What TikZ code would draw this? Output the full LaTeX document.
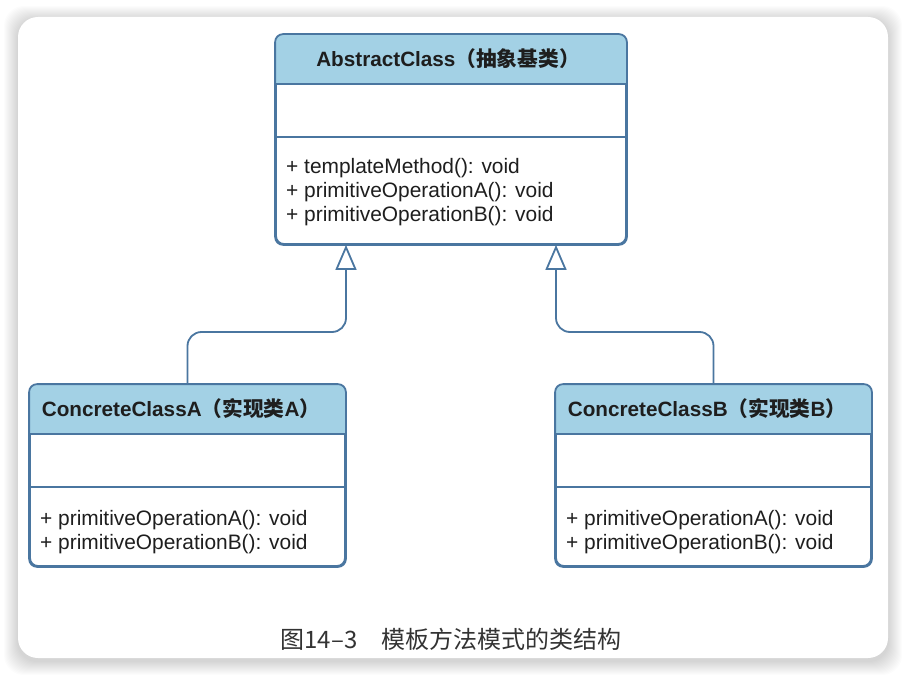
\documentclass[tikz,border=0pt]{standalone}
\usepackage{fontspec}
\setmainfont{Liberation Sans}
\newfontfamily\cjk{Noto Sans CJK SC}
\usetikzlibrary{arrows.meta,calc}
\definecolor{umlline}{HTML}{4A76A0}
\definecolor{umlhead}{HTML}{A3D1E5}
\definecolor{captxt}{HTML}{333333}
\definecolor{bodytxt}{HTML}{1E1E1E}
\begin{document}
\begin{tikzpicture}[x=1pt,y=-1pt,
  umlbox/.style={draw=umlline, fill=white, line width=1.8pt, rounded corners=8pt, inner sep=0pt},
  umlborder/.style={draw=umlline, line width=1.8pt, rounded corners=8pt},
  sepline/.style={draw=umlline, line width=1.5pt},
  conn/.style={draw=umlline, line width=1.8pt, rounded corners=14pt,
    -{Triangle[open, length=25pt, width=21pt, line width=1.8pt]}},
  hdrtext/.style={font=\fontsize{20.7}{24}\selectfont\bfseries, text=bodytxt, inner sep=0pt},
  optext/.style={font=\fontsize{20.9}{24}\selectfont, text=bodytxt, anchor=base west, inner sep=0pt},
  captext/.style={font=\cjk\fontsize{24}{28}\selectfont, text=captxt, inner sep=0pt}
]
\useasboundingbox (0,0) rectangle (907,676);
\fill[white] (0,0) rectangle (907,676);
% shadow of card
\foreach \i in {1,...,14}{
  \fill[black, opacity=0.011, rounded corners=20pt] (18-\i,17-\i+3) rectangle (888+\i,658+\i+3);
}
\node[fill=white, rounded corners=20pt, minimum width=870pt, minimum height=641pt, inner sep=0pt] (card) at (453,337.5) {};

% AbstractClass
\node[umlbox, minimum width=350pt, minimum height=209pt] (abs) at (451,139.5) {};
\begin{scope}
  \clip[rounded corners=8pt] (abs.north west) rectangle (abs.south east);
  \fill[umlhead] (abs.north west) rectangle (626,84);
\end{scope}
\draw[sepline] (276,84) -- (626,84);
\draw[sepline] (276,137) -- (626,137);
\draw[umlborder] (abs.north west) rectangle (abs.south east);
\node[hdrtext] (absT) at (448,59) {AbstractClass{\cjk （抽象基类）}};
\node[optext] (absO1) at (286,174) {+ templateMethod(): void};
\node[optext] (absO2) at (286,198) {+ primitiveOperationA(): void};
\node[optext] (absO3) at (286,222) {+ primitiveOperationB(): void};

% ConcreteClassA
\node[umlbox, minimum width=315pt, minimum height=181pt] (ca) at (187.5,475.5) {};
\begin{scope}
  \clip[rounded corners=8pt] (ca.north west) rectangle (ca.south east);
  \fill[umlhead] (ca.north west) rectangle (345,434);
\end{scope}
\draw[sepline] (30,434) -- (345,434);
\draw[sepline] (30,487) -- (345,487);
\draw[umlborder] (ca.north west) rectangle (ca.south east);
\node[hdrtext] (caT) at (181,409) {ConcreteClassA{\cjk （实现类}A{\cjk ）}};
\node[optext] (caO1) at (40,525) {+ primitiveOperationA(): void};
\node[optext] (caO2) at (40,549) {+ primitiveOperationB(): void};

% ConcreteClassB
\node[umlbox, minimum width=315pt, minimum height=181pt] (cb) at (713.5,475.5) {};
\begin{scope}
  \clip[rounded corners=8pt] (cb.north west) rectangle (cb.south east);
  \fill[umlhead] (cb.north west) rectangle (871,434);
\end{scope}
\draw[sepline] (556,434) -- (871,434);
\draw[sepline] (556,487) -- (871,487);
\draw[umlborder] (cb.north west) rectangle (cb.south east);
\node[hdrtext] (cbT) at (707,409) {ConcreteClassB{\cjk （实现类}B{\cjk ）}};
\node[optext] (cbO1) at (566,525) {+ primitiveOperationA(): void};
\node[optext] (cbO2) at (566,549) {+ primitiveOperationB(): void};

% generalization connectors
\coordinate (tA) at ($(abs.south)+(-105,0)$);
\coordinate (tB) at ($(abs.south)+(105,0)$);
\coordinate (kA) at (346,332);
\coordinate (kB) at (556,332);
\draw[conn] (ca.north) |- (kA) -- (tA);
\draw[conn] (cb.north) |- (kB) -- (tB);

% caption
\node[captext] (cap) at (451,639) {图14–3　模板方法模式的类结构};
\end{tikzpicture}
\end{document}
